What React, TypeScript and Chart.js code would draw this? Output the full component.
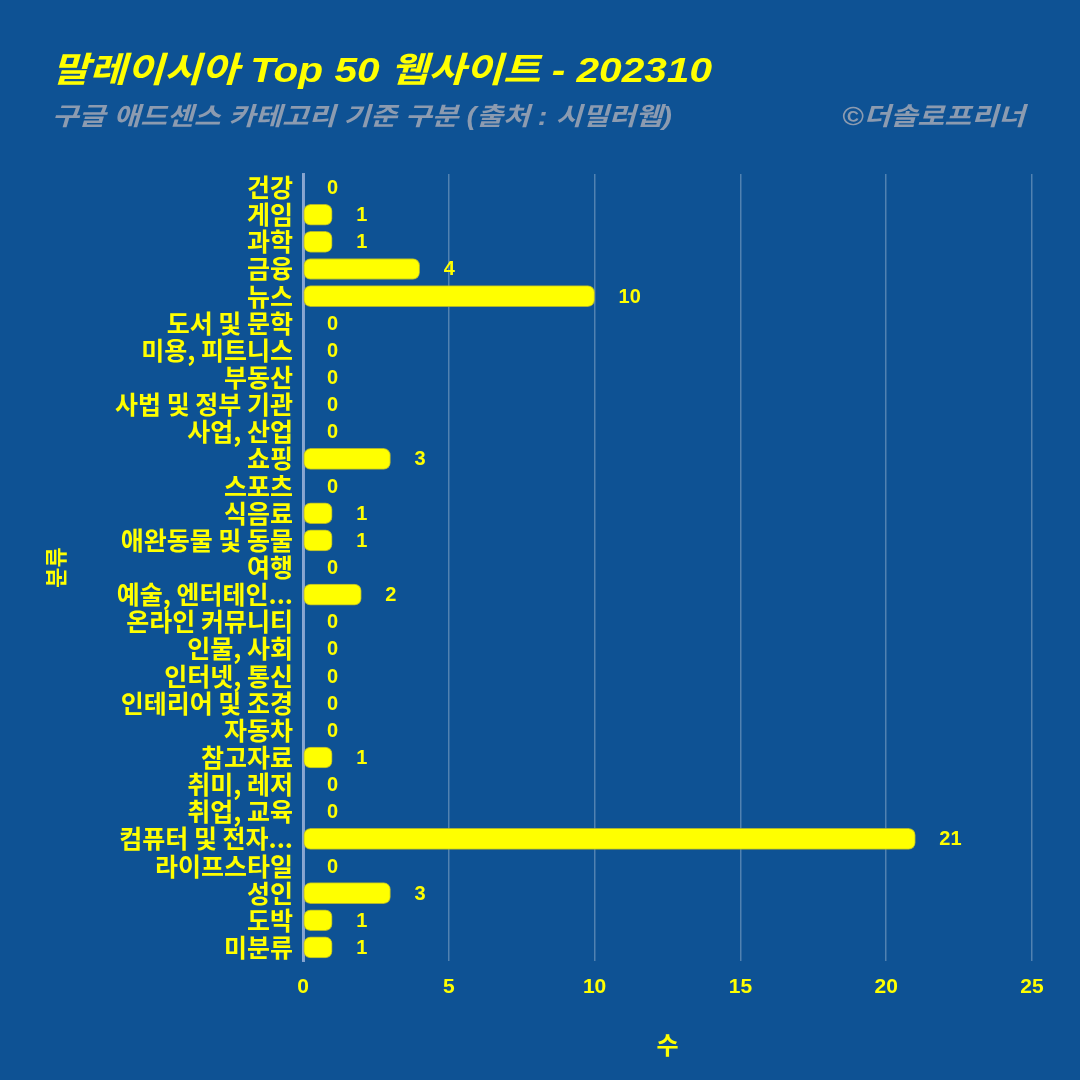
import React, { useEffect, useRef } from "react";
import { Chart, registerables } from "chart.js";

Chart.register(...registerables);

const categories = [
  "건강", "게임", "과학", "금융", "뉴스", "도서 및 문학", "미용, 피트니스", "부동산",
  "사법 및 정부 기관", "사업, 산업", "쇼핑", "스포츠", "식음료", "애완동물 및 동물", "여행",
  "예술, 엔터테인...", "온라인 커뮤니티", "인물, 사회", "인터넷, 통신", "인테리어 및 조경",
  "자동차", "참고자료", "취미, 레저", "취업, 교육", "컴퓨터 및 전자...", "라이프스타일",
  "성인", "도박", "미분류",
];
const counts = [0, 1, 1, 4, 10, 0, 0, 0, 0, 0, 3, 0, 1, 1, 0, 2, 0, 0, 0, 0, 0, 1, 0, 0, 21, 0, 3, 1, 1];
const xTicks = [0, 5, 10, 15, 20, 25];

const titleText = "말레이시아 Top 50 웹사이트 - 202310";
const subtitleText = "구글 애드센스 카테고리 기준 구분 (출처 : 시밀러웹)";
const creditText = "©더솔로프리너";

const BG = "#0e5294";
const YELLOW = "#ffff00";
const GRAY = "#8c9bb0";
const FONT = "'Liberation Sans', 'Noto Sans CJK KR', sans-serif";
const KFONT = "'Noto Sans CJK KR', 'Liberation Sans', sans-serif";

function fitText(ctx: CanvasRenderingContext2D, text: string, x: number, y: number, width: number, align: "left" | "right") {
  const w = ctx.measureText(text).width;
  const sx = width / w;
  ctx.save();
  ctx.textAlign = "left";
  const startX = align === "left" ? x : x - width;
  ctx.translate(startX, y);
  ctx.scale(sx, 1);
  ctx.fillText(text, 0, 0);
  ctx.restore();
}

export default function App() {
  const ref = useRef<HTMLCanvasElement | null>(null);

  useEffect(() => {
    document.body.style.margin = "0";
    document.body.style.background = BG;
    const canvas = ref.current;
    if (!canvas) return;

    const headerPlugin = {
      id: "header",
      beforeDraw(chart: any) {
        const ctx = chart.ctx;
        ctx.save();
        ctx.fillStyle = BG;
        ctx.fillRect(0, 0, chart.width, chart.height);
        ctx.restore();
      },
      afterDraw(chart: any) {
        const ctx = chart.ctx;
        ctx.save();
        ctx.textBaseline = "middle";
        ctx.fillStyle = YELLOW;
        ctx.font = `italic bold 35px ${FONT}`;
        fitText(ctx, titleText, 52, 72, 660, "left");
        ctx.fillStyle = GRAY;
        ctx.font = `italic bold 25px ${FONT}`;
        fitText(ctx, subtitleText, 52, 118, 620, "left");
        fitText(ctx, creditText, 1025, 118, 183, "right");
        ctx.restore();
      },
    };

    const labelPlugin = {
      id: "valueLabels",
      afterDatasetsDraw(chart: any) {
        const ctx = chart.ctx;
        const meta = chart.getDatasetMeta(0);
        const xs = chart.scales.x;
        ctx.save();
        ctx.fillStyle = YELLOW;
        ctx.font = `bold 20px ${FONT}`;
        ctx.textAlign = "left";
        ctx.textBaseline = "middle";
        meta.data.forEach((el: any, i: number) => {
          const v = counts[i];
          const x = xs.getPixelForValue(v) + 24;
          ctx.fillText(String(v), x, el.y + 1);
        });
        ctx.restore();
      },
    };

    const chart = new Chart(canvas, {
      type: "bar",
      data: {
        labels: categories,
        datasets: [
          {
            data: counts,
            backgroundColor: YELLOW,
            borderColor: "rgba(190,190,40,0.9)",
            borderWidth: 1,
            borderSkipped: false,
            borderRadius: 7,
            barThickness: 21,
          },
        ],
      },
      options: {
        indexAxis: "y",
        responsive: false,
        animation: false,
        layout: { padding: { top: 174, right: 48, bottom: 0, left: 40 } },
        plugins: {
          legend: { display: false },
          tooltip: { enabled: false },
          title: { display: false },
        },
        scales: {
          x: {
            min: 0,
            max: 25,
            afterBuildTicks(axis: any) {
              axis.ticks = xTicks.map((v) => ({ value: v }));
            },
            afterFit(axis: any) {
              axis.height = 119;
            },
            grid: {
              color: "rgba(255,255,255,0.28)",
              lineWidth: 1.5,
              drawTicks: false,
            },
            border: { display: false },
            ticks: {
              color: YELLOW,
              font: { family: FONT, size: 21, weight: "bold" },
              padding: 14,
            },
            title: {
              display: true,
              text: "수",
              color: YELLOW,
              font: { family: KFONT, size: 24, weight: "bold" },
              padding: { top: 20, bottom: 21 },
            },
          },
          y: {
            afterFit(axis: any) {
              axis.width = 263;
            },
            grid: { display: false, drawTicks: false },
            border: { display: true, color: "rgba(150,175,215,0.85)", width: 3 },
            ticks: {
              color: YELLOW,
              font: { family: KFONT, size: 25, weight: "bold" },
              padding: 10,
              autoSkip: false,
            },
            title: {
              display: true,
              text: "분류",
              color: YELLOW,
              font: { family: KFONT, size: 22, weight: "bold" },
              padding: { top: 2, bottom: 10 },
            },
          },
        },
      },
      plugins: [headerPlugin, labelPlugin],
    });

    return () => chart.destroy();
  }, []);

  return <canvas ref={ref} width={1080} height={1080} style={{ display: "block" }} />;
}
